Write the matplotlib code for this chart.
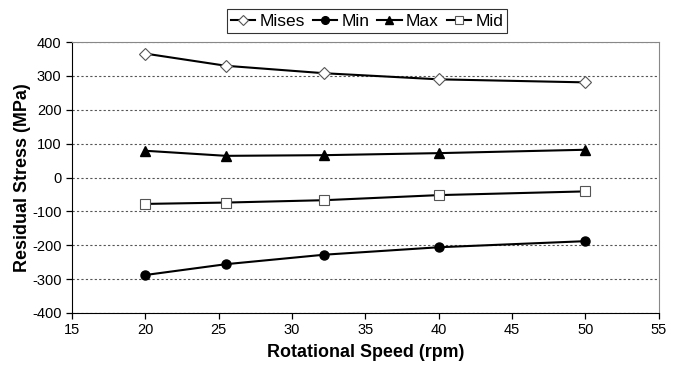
import matplotlib.pyplot as plt

plt.rcParams['font.family'] = ['Liberation Sans', 'DejaVu Sans']
plt.rcParams['axes.unicode_minus'] = False

# --- Data ---
speed = [20, 25.5, 32.2, 40, 50]
mises = [366, 330, 308, 290, 281]
s_min = [-288, -256, -228, -206, -188]
s_max = [79, 64, 66, 72, 82]
s_mid = [-78, -74, -67, -52, -41]

x_ticks = [15, 20, 25, 30, 35, 40, 45, 50, 55]
y_ticks = [-400, -300, -200, -100, 0, 100, 200, 300, 400]


# --- Create graph ---
fig = plt.figure(figsize=(6.76, 3.66), dpi=100)
ax = fig.add_axes([0.1065, 0.145, 0.868, 0.74])

ax.plot(speed, mises, '-D', color='black', lw=1.5, ms=6, mfc='white', mec='#555555', mew=0.8, label="Mises")
ax.plot(speed, s_min, '-o', color='black', lw=1.5, ms=6.5, label="Min")
ax.plot(speed, s_max, '-^', color='black', lw=1.5, ms=7, label="Max")
ax.plot(speed, s_mid, '-s', color='black', lw=1.5, ms=6.5, mfc='white', mec='#555555', mew=0.8, label="Mid")

ax.set_xlim(15, 55)
ax.set_ylim(-400, 400)
ax.set_xticks(x_ticks)
ax.set_yticks(y_ticks)
ax.yaxis.grid(True, linestyle=(0, (2, 2)), color='#555555', lw=0.8)
ax.set_axisbelow(True)

for side in ['top', 'right']:
    ax.spines[side].set_color('#888888')
for side in ['left', 'bottom']:
    ax.spines[side].set_color('black')
ax.tick_params(direction='out', length=4, width=0.9, labelsize=10.5, colors='black')

ax.set_xlabel("Rotational Speed (rpm)", fontsize=12.9, fontweight='bold', labelpad=5)
ax.set_ylabel("Residual Stress (MPa)", fontsize=12.9, fontweight='bold', labelpad=1)

leg = fig.legend(loc='center', bbox_to_anchor=(367 / 676, 1 - 21 / 366), ncol=4,
                 handlelength=1.4, handletextpad=0.25, columnspacing=0.45,
                 fontsize=12.5, frameon=True, fancybox=False, borderpad=0.25,
                 markerscale=0.85)
leg.get_frame().set_edgecolor('black')
leg.get_frame().set_linewidth(0.8)

fig.savefig("out.png", dpi=100)
